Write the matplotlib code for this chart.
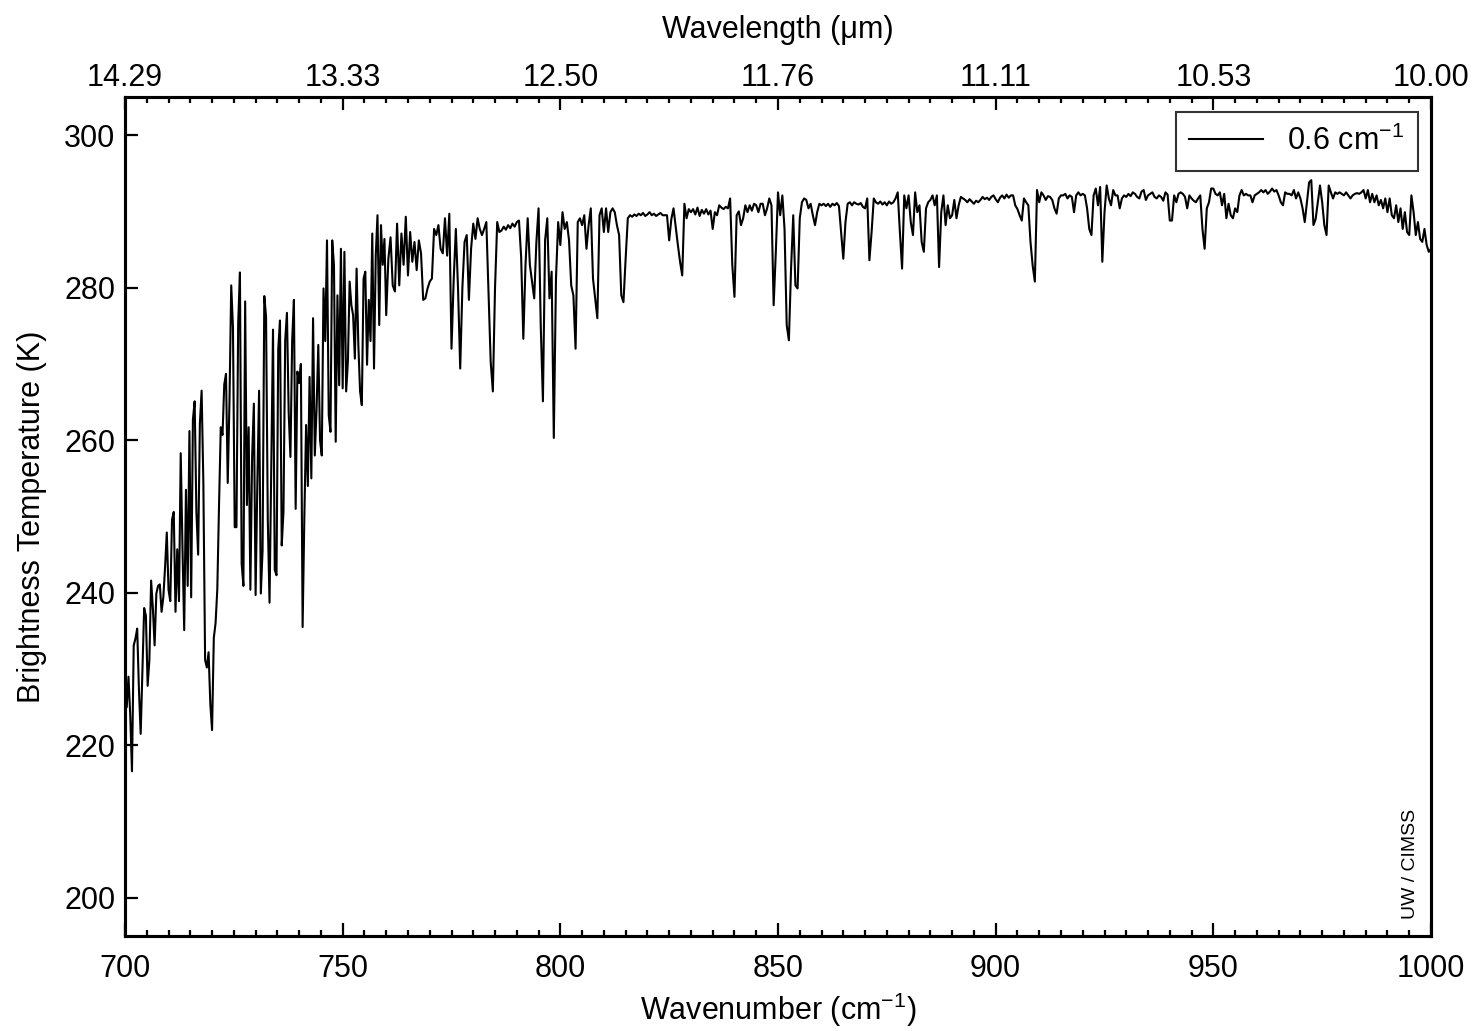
import numpy as np
import matplotlib.pyplot as plt
from matplotlib.ticker import MultipleLocator

plt.rcParams['font.family'] = ['Liberation Sans', 'DejaVu Sans']
plt.rcParams['mathtext.fontset'] = 'custom'
plt.rcParams['mathtext.rm'] = 'Liberation Sans'
plt.rcParams['mathtext.it'] = 'Liberation Sans'

# brightness temperature (K), 700.0 - 759.6 cm-1 every 0.4 cm-1
wn_a_start, wn_a_step = 700.0, 0.4
bt_a = [
    229, 225, 229, 224, 216.6, 233.1, 234, 235.3, 227.3, 221.5, 229.7, 238, 237, 227.8, 231.2,
    241.6, 238, 233.1, 239.9, 240.9, 241.1, 237.5, 239.4, 243.3, 247.9,
    240.4, 238.9, 249.6, 250.6, 237.5, 245.7, 238.9, 258.3, 246, 235.1, 253.5, 240.9, 261.2, 239.4, 262.7,
    265.1, 250.6, 245, 262.2, 266.5, 254.4, 231.2, 230.2, 232.2, 225.4,
    222, 234.1, 236, 240.4, 251.5, 261.7, 260.7, 267.3, 268.7, 254.4, 265.1, 280.3, 274.8, 248.6, 248.6,
    275.3, 282, 243.8, 240.9, 278.2, 251.5, 261.7, 240.4, 257.8, 264.8,
    239.7, 254.4, 266.5, 239.9, 245.5, 278.9, 276.2, 249.6, 238.7, 256.4, 274.5, 243, 242.3, 271.9, 275.7,
    246.2, 250.6, 273.1, 276.7, 263.6, 257.8, 273.1, 278.4, 251, 269,
    267.5, 270, 235.5, 250, 262, 254, 268.3, 255, 276, 258, 264, 272.5, 260, 258, 279.9,
    273, 286.2, 263.3, 261.1, 286.2, 283, 259.8, 279, 267.2, 285.1,
    266.8, 284.7, 266.4, 270.3, 280.8, 277.7, 276.4, 270.7, 282.5, 272.5, 266.4, 264.6, 281.2, 282.1, 269.9,
    278.4, 273, 287.1, 269.4, 284.2, 289.5, 275.1, 288.2, 283, 286.4,
]

# brightness temperature (K), 760.0 - 1000.0 cm-1 every 0.5 cm-1
wn_b_start, wn_b_step = 760.0, 0.5
bt_b = [
    276.4, 283.8, 286.6, 280.3, 279.5, 288.4, 280.3, 287.1, 283, 289.3, 281.6, 287.3, 283.4, 286, 282.3, 286.2, 284.5, 278.4, 278.6, 279.9,
    280.8, 281.2, 287.7, 286.9, 288.2, 285.1, 284.5, 289.1, 284.2, 289.7, 272, 281, 287.7, 279.9, 269.4, 280, 286, 286.9, 278.4, 285.1,
    288.4, 286.4, 289.1, 287.7, 286.9, 287.7, 288.6, 279.5, 270.3, 266.4, 280, 288.6, 287.3, 287.5, 288, 287.6, 288.2, 287.8, 288.4, 288,
    288.6, 288.8, 284, 273.3, 283, 289.1, 283, 280.8, 278.6, 286, 290.4, 275, 265.1, 286.2, 289.1, 278.6, 282.1, 260.3, 281.2, 288.6,
    285.6, 289.9, 287.7, 288.6, 286.2, 280.3, 279, 272, 288.6, 289.1, 288.2, 289.5, 285.1, 288.2, 290.4, 281.2, 278.6, 276, 289.5, 290.4,
    287.3, 290.4, 287.3, 289.9, 290.4, 289.9, 288.2, 286.9, 279, 278.1, 283.8, 289.1, 289.5, 289.3, 289.6, 289.4, 289.7, 289.5, 289.8, 289.4,
    289.6, 289.9, 289.5, 289.7, 289.4, 289.6, 289.8, 289.5, 289.5, 289.5, 286.2, 289, 290.4, 288, 285.6, 283.4, 281.6, 291, 289.1, 290.3,
    289.9, 290.3, 289.6, 290.5, 289.4, 290.2, 289.7, 290.3, 289.6, 290.1, 287.7, 289.9, 289.5, 290.8, 290.5, 290.3, 290.6, 290.4, 291.7, 283,
    278.8, 289.5, 290, 288.2, 289.1, 290.8, 289.9, 290.8, 290.1, 291, 290.8, 289.9, 291, 291, 289.5, 290.4, 291.7, 290.8, 277.7, 284.7,
    292.5, 289.5, 292.1, 287.7, 275.1, 273.1, 282.5, 289.5, 280.3, 279.9, 289.1, 291.2, 291.7, 291.5, 290.4, 291, 289.5, 288.2, 289.9, 291,
    290.8, 291, 290.7, 291, 290.6, 291, 290.8, 291.1, 290.7, 287.3, 283.8, 288.6, 291, 291.2, 290.8, 291.2, 291, 290.9, 291.1, 290.6,
    290.4, 291.7, 283.6, 287.3, 291.7, 291.2, 291, 291.3, 290.9, 291.2, 290.8, 291.3, 291, 291.2, 291.7, 292.5, 287.3, 282.5, 292.1, 290.4,
    292.1, 288.6, 286.9, 292.5, 289.9, 290.8, 286, 284.7, 290.4, 291.2, 291.5, 292.1, 290.8, 292.1, 282.7, 289.9, 292.1, 288.2, 290.8, 289.1,
    289.5, 291.5, 289.1, 290.8, 291.9, 291.7, 291.5, 291.2, 291.6, 291.3, 291, 291.4, 291.2, 291.5, 291.9, 291.6, 291.8, 291.5, 291.9, 292.1,
    291.6, 291.2, 291.8, 292.1, 291.7, 292.2, 291.8, 292.1, 292.1, 290.8, 290.3, 289.5, 288.8, 291.7, 291.2, 290.8, 286, 282.9, 280.8, 292.8,
    291.2, 292.5, 292.1, 291.5, 292, 291.9, 291.5, 290.4, 289.7, 291.7, 292.1, 292.1, 292.3, 291.7, 292.1, 291.9, 289.9, 292.1, 292.5, 292.1,
    292.3, 292.1, 290.4, 287.7, 286.9, 292.1, 293, 290.8, 293.2, 283.4, 289.9, 293.4, 291.7, 290.8, 292.8, 292.1, 292.1, 290.4, 291.7, 292.1,
    291.9, 292.3, 292, 292.5, 292.3, 291.9, 291.7, 292.6, 292.8, 291.5, 292.1, 292.3, 292.5, 291.9, 291.7, 292.1, 291.9, 291.4, 292.5, 292.2,
    288.8, 288.8, 292.1, 291.2, 292.3, 292.5, 292.3, 291.9, 290.4, 292.1, 291.7, 291.4, 291.2, 291.7, 292.1, 287.7, 285.1, 290.4, 291.2, 293,
    293, 292.3, 292.1, 292.5, 290.8, 292.3, 289.1, 291, 289.5, 289.1, 290.4, 289.9, 292.1, 292.8, 292.1, 292.3, 292.1, 292.1, 291.2, 292.1,
    292.3, 292.5, 292.8, 292.5, 292.8, 292.3, 292.6, 293, 292.6, 292.8, 292.1, 291.2, 290.8, 292.5, 292.3, 292.3, 292.1, 292.8, 291.7, 292.5,
    291.7, 290.4, 288.6, 291.2, 293.8, 294.1, 288.2, 289, 291.2, 293.4, 291.2, 288.2, 286.9, 293.4, 292.5, 291.7, 292.5, 292.3, 292.5, 292.3,
    292.1, 292.5, 292.1, 291.7, 292.1, 292.3, 292.4, 292.3, 292.5, 292.8, 291.7, 292.8, 291.2, 292.3, 291.2, 292.1, 290.8, 291.5, 290.4, 291.7,
    289.9, 291.7, 289.5, 289.1, 290.8, 288.6, 290.4, 287.7, 289.9, 287.3, 286.9, 292.1, 289.9, 286.9, 288.6, 286.4, 286, 287.7, 285.6, 284.7,
    285.1,
]

wn = np.concatenate([wn_a_start + wn_a_step * np.arange(len(bt_a)),
                     wn_b_start + wn_b_step * np.arange(len(bt_b))])
bt = np.concatenate([bt_a, bt_b])

major_wn = [700, 750, 800, 850, 900, 950, 1000]
y_ticks = [200, 220, 240, 260, 280, 300]
fs = 22

fig = plt.figure(figsize=(14.79, 10.31), dpi=100)
ax = fig.add_axes([125/1479, 1 - 936/1031, (1431 - 125)/1479, (936 - 97)/1031])

ax.plot(wn, bt, color="black", lw=1.5, label="0.6 cm$^{-1}$")
ax.set_xlim(700, 1000)
ax.set_ylim(195, 305)
ax.set_xticks(major_wn)
ax.xaxis.set_minor_locator(MultipleLocator(5))
ax.set_yticks(y_ticks)
ax.tick_params(which="both", direction="in", width=1.6, labelsize=fs, top=False, right=False)
ax.tick_params(which="major", length=9.5)
ax.tick_params(which="minor", length=4.5)
ax.tick_params(axis="x", pad=13)
ax.tick_params(axis="y", pad=7)
for s in ax.spines.values():
    s.set_linewidth(2.2)

ax.set_xlabel("Wavenumber (cm$^{-1}$)", fontsize=fs, labelpad=5)
ax.set_ylabel("Brightness Temperature (K)", fontsize=fs, labelpad=12)

# top axis: wavelength in micron
ax2 = ax.twiny()
ax2.set_xlim(700, 1000)
ax2.set_xticks(major_wn)
ax2.set_xticklabels([f"{10000 / w:.2f}" for w in major_wn])
ax2.xaxis.set_minor_locator(MultipleLocator(5))
ax2.tick_params(which="both", direction="in", width=1.6, labelsize=fs, pad=3)
ax2.tick_params(which="major", length=9.5)
ax2.tick_params(which="minor", length=4.5)
ax2.set_xlabel("Wavelength (\u03bcm)", fontsize=fs, labelpad=18)
for s in ax2.spines.values():
    s.set_linewidth(2.2)

leg = ax.legend(loc="upper right", bbox_to_anchor=(1 - 13/1306, 1 - 15/839), borderaxespad=0,
                fontsize=fs, frameon=True, fancybox=False, edgecolor="black",
                handlelength=2.4, borderpad=0.45, handletextpad=0.8)
leg.get_frame().set_linewidth(1.5)

ax.text(0.984, 0.02, "UW / CIMSS", transform=ax.transAxes, rotation=90,
        ha="center", va="bottom", fontsize=14)

fig.savefig("out.png", dpi=100)
